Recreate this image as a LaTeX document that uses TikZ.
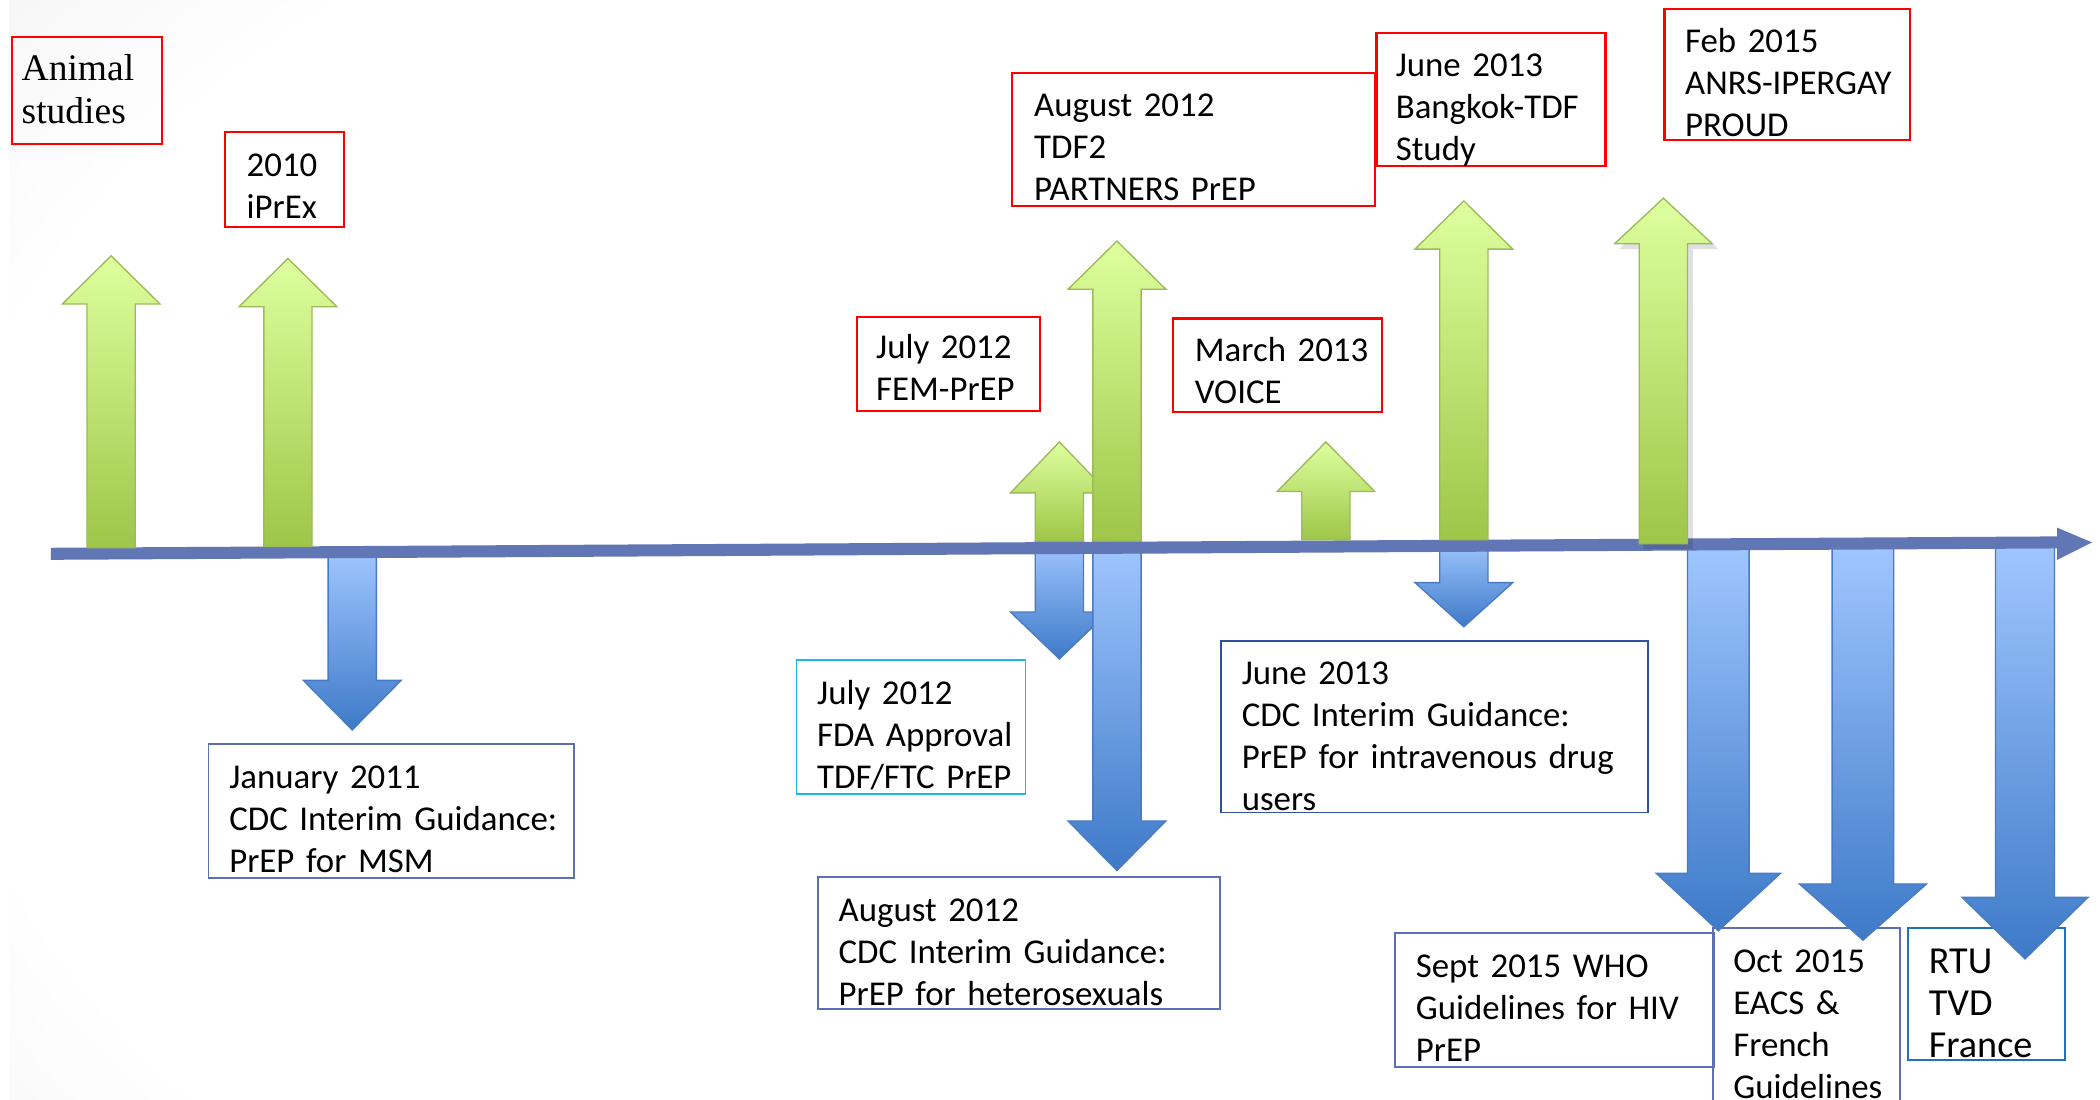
\documentclass[tikz,border=0pt]{standalone}
\usepackage{fontspec}
\newfontfamily\calfont{Carlito}
\newfontfamily\serfont{Liberation Serif}
\definecolor{gtop}{RGB}{222,255,158}
\definecolor{gbot}{RGB}{158,198,72}
\definecolor{gline}{RGB}{155,187,89}
\definecolor{btop}{RGB}{160,198,255}
\definecolor{bbot}{RGB}{62,122,200}
\definecolor{bline}{RGB}{74,122,196}
\definecolor{tline}{RGB}{97,118,180}
\definecolor{boxA}{RGB}{92,110,184}
\definecolor{boxB}{RGB}{47,82,160}
\definecolor{boxC}{RGB}{28,181,240}
\definecolor{boxD}{RGB}{31,112,190}
\definecolor{bgedge}{RGB}{216,216,216}
\pgfdeclareradialshading{bgshade}{\pgfpoint{0bp}{0bp}}{color(0bp)=(white); color(13bp)=(white); color(25bp)=(bgedge); color(50bp)=(bgedge)}
\tikzset{
  redbox/.style={draw=red, line width=1.6pt, anchor=north west, inner sep=0pt},
  bluebox/.style={draw=boxA, line width=1.4pt, anchor=north west, inner sep=0pt},
  txt/.style={font=\calfont\fontsize{26}{31.3}\selectfont, anchor=base west, align=left, inner sep=0pt, text width=400pt},
  sertxt/.style={font=\serfont\fontsize{28}{32}\selectfont, anchor=base west, align=left, inner sep=0pt, text width=200pt},
}
\newcommand\mygarrow[4]{%
  \shade[top color=gtop, bottom color=gbot, draw=gline, line width=1pt]
  ({#1-18},#4) -- ({#1-18},#3) -- ({#1-36.5},#3) -- (#1,#2) -- ({#1+36.5},#3) -- ({#1+18},#3) -- ({#1+18},#4) -- cycle;}
\newcommand\mybarrow[6]{%
  \shade[top color=btop, bottom color=bbot, draw=bline, line width=1pt]
  ({#1-#5},#2) -- ({#1-#5},#3) -- ({#1-#6},#3) -- (#1,#4) -- ({#1+#6},#3) -- ({#1+#5},#3) -- ({#1+#5},#2) -- cycle;}
\begin{document}
\begin{tikzpicture}[x=1pt,y=-1pt]
\useasboundingbox (0,0) rectangle (1568,821);
\fill[white] (0,0) rectangle (1568,821);
\begin{scope}
  \clip (7,0) rectangle (1568,821);
  \shade[shading=bgshade] (-950,-750) rectangle (2850,1650);
\end{scope}

% boxes
\node[redbox, minimum width=112pt, minimum height=80pt] (animal) at (8,27) {};
\node[redbox, minimum width=89pt, minimum height=71pt] (iprex) at (167,98) {};
\node[redbox, minimum width=137pt, minimum height=70pt] (femprep) at (639,236) {};
\node[redbox, minimum width=271pt, minimum height=99pt] (tdf2) at (755,54) {};
\node[redbox, minimum width=156pt, minimum height=70pt] (voice) at (875,237) {};
\node[redbox, minimum width=171pt, minimum height=99pt] (bangkok) at (1027,24) {};
\node[redbox, minimum width=183pt, minimum height=98pt] (ipergay) at (1242,6) {};

\node[bluebox, minimum width=273pt, minimum height=100pt] (jan) at (155,555) {};
\node[bluebox, draw=boxC, minimum width=171pt, minimum height=100pt] (fda) at (594,492) {};
\node[bluebox, minimum width=300pt, minimum height=99pt] (augcdc) at (610,654) {};
\node[bluebox, draw=boxB, minimum width=319pt, minimum height=128pt] (junecdc) at (911,478) {};
\node[bluebox, minimum width=238pt, minimum height=100pt] (who) at (1041,696) {};
\node[bluebox, minimum width=140pt, minimum height=135pt] (eacs) at (1278,692) {};
\node[bluebox, draw=boxD, minimum width=117pt, minimum height=99pt] (rtu) at (1424,692) {};

% blue down arrows
\mybarrow{263}{410}{508}{545}{18}{36.5}
\mybarrow{791}{404}{457}{492}{18}{36.5}
\mybarrow{834}{404}{613}{650}{18}{36.5}
\mybarrow{1093}{403}{435}{468}{18}{36.5}
\mybarrow{1283}{406}{652}{695}{23}{46.5}
\mybarrow{1391}{406}{660}{702}{23}{47.5}
\mybarrow{1512}{406}{670}{716}{22}{47}

% timeline
\draw[tline, line width=9pt] (38,413.5) -- (1538,405);
\fill[tline] (1536,394) -- (1562,405) -- (1536,418) -- cycle;

% green up arrows
\mygarrow{83}{191}{227}{409}
\mygarrow{215}{193}{229}{408}
\mygarrow{791}{330}{368}{404}
\mygarrow{834}{180}{216}{404}
\mygarrow{990}{330}{367}{403}
\mygarrow{1093}{150}{186}{403}
\fill[black, opacity=0.12] (1227,410) -- (1227,186) -- (1209,186) -- (1245,151) -- (1283,186) -- (1264,186) -- (1264,410) -- cycle;
\mygarrow{1242}{148}{182}{406}

% texts
\node[sertxt] (tanimal) at (16,60) {Animal\\studies};
\node[txt] (tiprex) at (184,132) {2010\\iPrEx};
\node[txt] (tfem) at (654,268) {July 2012\\FEM-PrEP};
\node[txt] (ttdf) at (772,87) {August 2012\\TDF2\\PARTNERS PrEP};
\node[txt] (tvoice) at (892,270) {March 2013\\VOICE};
\node[txt] (tbang) at (1042,57) {June 2013\\Bangkok-TDF\\Study};
\node[txt] (tiper) at (1258,39) {Feb 2015\\ANRS-IPERGAY\\PROUD};
\node[txt] (tjan) at (171,589) {January 2011\\CDC Interim Guidance:\\PrEP for MSM};
\node[txt] (tfda) at (610,526) {July 2012\\FDA Approval\\TDF/FTC PrEP};
\node[txt] (taug) at (626,688) {August 2012\\CDC Interim Guidance:\\PrEP for heterosexuals};
\node[txt] (tjune) at (927,511) {June 2013\\CDC Interim Guidance:\\PrEP for intravenous drug\\users};
\node[txt] (twho) at (1057,730) {Sept 2015 WHO\\Guidelines for HIV\\PrEP};
\node[txt] (teacs) at (1294,726) {Oct 2015\\EACS \&\\French\\Guidelines};
\node[txt, font=\calfont\fontsize{28.5}{31.3}\selectfont] (trtu) at (1440,727) {RTU\\TVD\\France};
\end{tikzpicture}
\end{document}
